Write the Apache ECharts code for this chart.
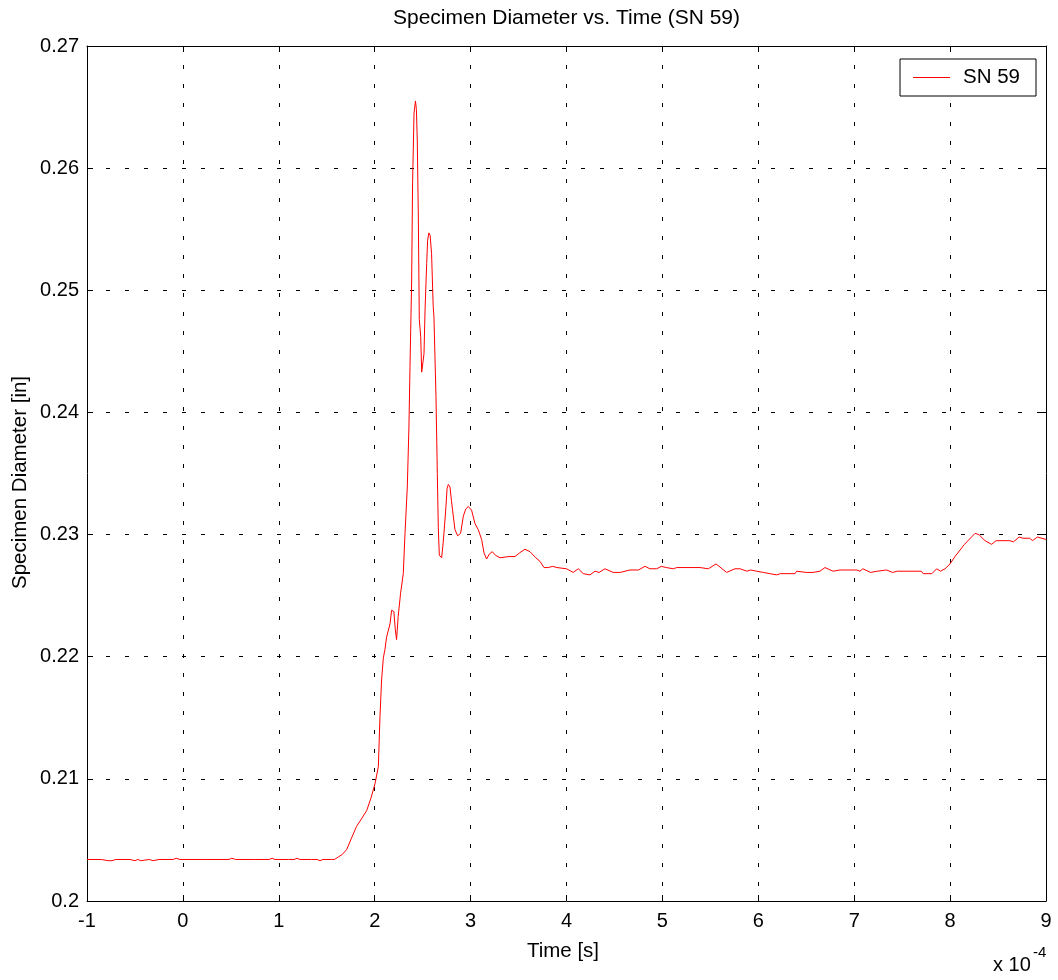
<!DOCTYPE html>
<html>
<head>
<meta charset="utf-8">
<script src="https://cdn.jsdelivr.net/npm/echarts@6/dist/echarts.min.js"></script>
<style>
  html, body { margin: 0; padding: 0; background: #fff; }
  #chart { width: 1058px; height: 980px; }
</style>
</head>
<body>
<div id="chart"></div>
<script>
// Time axis is in units of 1e-4 s (see the "x 10^-4" multiplier label).
const xTicks = [-1, 0, 1, 2, 3, 4, 5, 6, 7, 8, 9];
const yTicks = [0.2, 0.21, 0.22, 0.23, 0.24, 0.25, 0.26, 0.27];

const time = [
  -1, -0.85, -0.78, -0.74, -0.7, -0.55, -0.5, -0.47, -0.44, -0.35, -0.31, -0.25,
  -0.1, -0.07, -0.03, 0.2, 0.48, 0.51, 0.55, 0.7, 0.72, 0.75, 0.9, 0.93, 0.96,
  1.1, 1.12, 1.16, 1.19, 1.22, 1.34, 1.36, 1.4, 1.43, 1.46, 1.55,
  1.58, 1.62, 1.66, 1.707, 1.75, 1.81, 1.86, 1.916, 1.96, 2.003, 2.038, 2.055,
  2.072, 2.09, 2.107, 2.124, 2.16, 2.176, 2.2, 2.215, 2.228, 2.245, 2.27, 2.298,
  2.316, 2.34, 2.357, 2.368, 2.378, 2.385, 2.395, 2.41, 2.425, 2.435, 2.444,
  2.455, 2.465, 2.48, 2.49, 2.5, 2.514, 2.525, 2.542, 2.552, 2.565, 2.578, 2.593,
  2.61, 2.618, 2.639, 2.653, 2.663, 2.674, 2.698, 2.71, 2.722, 2.743, 2.755,
  2.768, 2.785, 2.8, 2.812, 2.837, 2.865, 2.896, 2.924, 2.95, 2.976, 3.01, 3.046,
  3.08, 3.115, 3.14, 3.167, 3.195, 3.226, 3.26, 3.307, 3.4, 3.463, 3.51, 3.567,
  3.619, 3.68, 3.724, 3.766, 3.81, 3.856, 3.9, 4.0, 4.07, 4.123, 4.175, 4.245,
  4.297, 4.34, 4.4, 4.488, 4.56, 4.662, 4.75, 4.818, 4.87, 4.94, 4.99, 5.04,
  5.114, 5.15, 5.392, 5.48, 5.559, 5.67, 5.757, 5.81, 5.88, 5.92, 5.983, 6.052,
  6.12, 6.19, 6.23, 6.383, 6.4, 6.5, 6.57, 6.643, 6.695, 6.78, 6.851, 7.026,
  7.06, 7.09, 7.17, 7.24, 7.338, 7.4, 7.45, 7.7, 7.72, 7.81, 7.86, 7.9, 7.947,
  7.999, 8.051, 8.15, 8.26, 8.3, 8.364, 8.433, 8.48, 8.624, 8.66, 8.72, 8.76,
  8.83, 8.86, 8.91, 9.0
];

const diameter = [
  0.2034, 0.2034, 0.2033, 0.2033, 0.2034, 0.2034, 0.2033, 0.2034, 0.2033, 0.2034, 0.2033, 0.2034,
  0.2034, 0.2035, 0.2034, 0.2034, 0.2034, 0.2035, 0.2034, 0.2034, 0.2033, 0.2034, 0.2034, 0.2035, 0.2034,
  0.2034, 0.2033, 0.2034, 0.2035, 0.2034, 0.2034, 0.2033, 0.2034, 0.2033, 0.2034, 0.2034,
  0.2034, 0.2036, 0.2038, 0.2042, 0.2050, 0.2061, 0.2067, 0.2074, 0.2084, 0.2096, 0.2110, 0.2151,
  0.2181, 0.2199, 0.2206, 0.2216, 0.2227, 0.2238, 0.2237, 0.2222, 0.2214, 0.2233, 0.2252, 0.2268,
  0.2301, 0.2339, 0.2388, 0.2437, 0.2478, 0.2506, 0.2588, 0.2645, 0.2655, 0.2648, 0.2623,
  0.2560, 0.2476, 0.2462, 0.2433, 0.2432, 0.2448, 0.2484, 0.2522, 0.2541, 0.2547, 0.2545, 0.2530,
  0.2487, 0.2478, 0.2413, 0.2350, 0.2306, 0.2283, 0.2281, 0.2290, 0.2301, 0.2323, 0.2338,
  0.2341, 0.2339, 0.2328, 0.2320, 0.2304, 0.2299, 0.2301, 0.2315, 0.2321, 0.2323, 0.2320, 0.2309,
  0.2304, 0.2296, 0.2285, 0.2280, 0.2284, 0.2286, 0.2283, 0.2281, 0.2282, 0.2282, 0.2285, 0.2288,
  0.2286, 0.2281, 0.2278, 0.2273, 0.2273, 0.2274, 0.2273, 0.2272, 0.2269, 0.2272, 0.2268, 0.2267,
  0.2270, 0.2269, 0.2272, 0.2269, 0.2269, 0.2271, 0.2271, 0.2274, 0.2272, 0.2272, 0.2274, 0.2273,
  0.2272, 0.2273, 0.2273, 0.2272, 0.2276, 0.2269, 0.2272, 0.2272, 0.2270, 0.2271, 0.2270, 0.2269,
  0.2268, 0.2267, 0.2268, 0.2268, 0.2270, 0.2269, 0.2269, 0.2270, 0.2273, 0.2270, 0.2271, 0.2271,
  0.2270, 0.2272, 0.2269, 0.2270, 0.2271, 0.2269, 0.2270, 0.2270, 0.2268, 0.2268, 0.2272, 0.2270, 0.2272,
  0.2276, 0.2282, 0.2292, 0.2301, 0.2300, 0.2295, 0.2292, 0.2295, 0.2295, 0.2294, 0.2298, 0.2297,
  0.2297, 0.2295, 0.2298, 0.2296
];

const FONT = '"Liberation Sans", Arial, sans-serif';
const points = time.map((t, i) => [t, diameter[i]]);

const GRID = { left: 87, right: 12, top: 46, bottom: 79 };
const plotCenterX = GRID.left + (1058 - GRID.left - GRID.right) / 2;
const plotCenterY = GRID.top + (980 - GRID.top - GRID.bottom) / 2;

const gridLine = { show: true, lineStyle: { color: '#000', width: 1, type: [4, 15] } };
const frameLine = { show: true, onZero: false, lineStyle: { color: '#000', width: 1 } };
const innerTick = { show: true, inside: true, length: 6, lineStyle: { color: '#000' } };

const chart = echarts.init(document.getElementById('chart'), null, { renderer: 'canvas' });
chart.setOption({
  animation: false,
  backgroundColor: '#fff',
  textStyle: { fontFamily: FONT, color: '#000' },
  legend: {
    right: 22, top: 59,
    orient: 'vertical',
    backgroundColor: '#fff',
    borderColor: '#000', borderWidth: 1, borderRadius: 0,
    padding: [8, 16, 8, 13],
    itemWidth: 37, itemHeight: 1, itemGap: 0,
    textStyle: { fontFamily: FONT, fontSize: 20.5, color: '#000', padding: [0, 0, 0, 8] },
    data: [{ name: 'SN 59', icon: 'rect' }]
  },
  grid: Object.assign({ containLabel: false }, GRID),
  xAxis: [
    {
      type: 'value', min: xTicks[0], max: xTicks[xTicks.length - 1], interval: 1,
      axisLine: frameLine, axisTick: innerTick, splitLine: gridLine,
      axisLabel: { fontFamily: FONT, fontSize: 20, color: '#000', margin: 10,
        formatter: v => String(v) }
    },
    {
      type: 'value', position: 'top', min: xTicks[0], max: xTicks[xTicks.length - 1], interval: 1,
      axisLine: frameLine, axisTick: innerTick, splitLine: { show: false }, axisLabel: { show: false }
    }
  ],
  yAxis: [
    {
      type: 'value', min: yTicks[0], max: yTicks[yTicks.length - 1], interval: 0.01,
      axisLine: frameLine, axisTick: innerTick, splitLine: gridLine,
      axisLabel: { fontFamily: FONT, fontSize: 20, color: '#000', margin: 8,
        formatter: v => {
          const s = v.toFixed(2);
          return s === '0.20' ? '0.2' : s;
        } }
    },
    {
      type: 'value', position: 'right', min: yTicks[0], max: yTicks[yTicks.length - 1], interval: 0.01,
      axisLine: frameLine, axisTick: innerTick, splitLine: { show: false }, axisLabel: { show: false }
    }
  ],
  graphic: [
    { type: 'text', x: plotCenterX, y: 18,
      style: { text: 'Specimen Diameter vs. Time (SN 59)', font: '21px ' + FONT, fill: '#000',
        textAlign: 'center', textVerticalAlign: 'middle' } },
    { type: 'text', x: 563, y: 951,
      style: { text: 'Time [s]', font: '20.5px ' + FONT, fill: '#000',
        textAlign: 'center', textVerticalAlign: 'middle' } },
    { type: 'text', x: 20, y: plotCenterY + 9, rotation: Math.PI / 2,
      style: { text: 'Specimen Diameter [in]', font: '20.5px ' + FONT, fill: '#000',
        textAlign: 'center', textVerticalAlign: 'middle' } },
    { type: 'text', left: 993, top: 955,
      style: { text: 'x 10', font: '20px ' + FONT, fill: '#000' } },
    { type: 'text', left: 1033, top: 945,
      style: { text: '-4', font: '15px ' + FONT, fill: '#000' } }
  ],
  series: [{
    name: 'SN 59',
    type: 'line',
    data: points,
    showSymbol: false,
    symbol: 'none',
    color: '#ff0000',
    lineStyle: { color: '#ff0000', width: 1 },
    emphasis: { disabled: true }
  }]
});
</script>
</body>
</html>
